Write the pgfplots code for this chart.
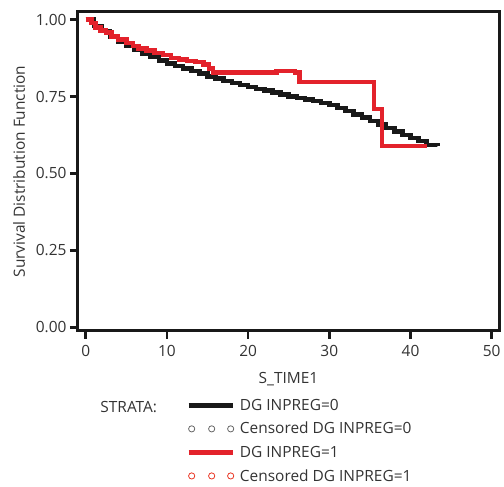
\documentclass[border=0pt]{standalone}
\usepackage{fontspec}
\setmainfont{Open Sans}
\usepackage{pgfplots}
\pgfplotsset{compat=1.18}
\definecolor{kmred}{HTML}{E3222B}
\definecolor{txt}{HTML}{333333}

\begin{document}
\begin{tikzpicture}
\begin{axis}[
    scale only axis,
    width=421bp, height=319bp,
    xmin=-0.95, xmax=50.9,
    ymin=-0.012, ymax=1.025,
    clip mode=individual,
    axis line style={line width=3bp, black!90},
    xtick={0,10,...,50},
    ytick={0,0.25,0.5,0.75,1},
    xtick pos=bottom, ytick pos=left,
    tick align=outside,
    major tick length=8bp,
    tick style={line width=2.5bp, black!90},
    /pgf/number format/assume math mode=true,
    yticklabel style={/pgf/number format/.cd, fixed, fixed zerofill, precision=2},
    xticklabel style={yshift=-3bp},
    ticklabel style={font=\fontsize{15.5}{18}\selectfont, text=txt},
    label style={font=\fontsize{15.5}{18}\selectfont, text=txt},
    xlabel={S\_TIME1},
    ylabel={Survival Distribution Function},
    ylabel shift=4bp,
    xlabel shift=9bp,
    legend style={
        at={(axis description cs:0.250,-0.2)},
        anchor=north west,
        draw=none, fill=none,
        font=\fontsize{15.5}{18}\selectfont,
        text=txt,
        cells={anchor=west},
        row sep=6.6bp,
    },
    legend image code/.code={\draw[#1] (0bp,0bp) -- (44bp,0bp); \path (47bp,0bp);},
]
\addplot[const plot, black!90, line width=4.5bp] coordinates {
(0,1.0) (1,0.98) (2,0.963) (3,0.945) (4,0.928) (5,0.915) (6,0.902)
(7,0.89) (8,0.878) (9,0.867) (10,0.857) (11,0.849) (12,0.841) (13,0.833)
(14,0.825) (15,0.815) (16,0.808) (17,0.801) (18,0.794) (19,0.787)
(20,0.781) (21,0.775) (22,0.769) (23,0.763) (24,0.757) (25,0.751)
(26,0.746) (27,0.740) (28,0.735) (29,0.729) (30,0.722) (31,0.713)
(32,0.703) (33,0.692) (34,0.682) (35,0.671) (36,0.66) (37,0.648)
(38,0.636) (39,0.625) (40,0.615) (41,0.605) (42,0.592) (43.3,0.589)
};
\addlegendentry{DG INPREG=0}
\addlegendimage{legend image code/.code={
    \foreach \cx in {3bp,23bp,42bp}{\draw[black!60, line width=0.8pt] (\cx,0bp) circle (3.1bp);}
    \path (47bp,0bp);}}
\addlegendentry{Censored DG INPREG=0}
\addplot[const plot, kmred, line width=4.5bp] coordinates {
(0,1.0) (0.7,0.99) (1.2,0.975) (1.8,0.965) (2.5,0.958) (3.2,0.945)
(4,0.935) (5,0.925) (5.8,0.915) (6.5,0.907) (7.5,0.9) (8.5,0.892)
(9.5,0.885) (10.5,0.875) (11.5,0.87) (12.5,0.866) (13.5,0.862)
(14.5,0.855) (15.2,0.842) (15.7,0.829) (23.5,0.834) (25.8,0.829)
(26.3,0.797) (35.5,0.71) (36.5,0.589) (42,0.589)
};
\addlegendentry{DG INPREG=1}
\addlegendimage{legend image code/.code={
    \foreach \cx in {3bp,23bp,42bp}{\draw[kmred!80!orange, line width=0.8pt] (\cx,0bp) circle (3.1bp);}
    \path (47bp,0bp);}}
\addlegendentry{Censored DG INPREG=1}
\node[anchor=west, font=\fontsize{15.5}{18}\selectfont, text=txt]
    at (axis description cs:0.045,-0.238) {STRATA:};
\end{axis}
\path ([xshift=-78bp,yshift=-150bp]current axis.south west)
    rectangle ([xshift=5bp,yshift=12bp]current axis.north east);
\end{tikzpicture}
\end{document}
